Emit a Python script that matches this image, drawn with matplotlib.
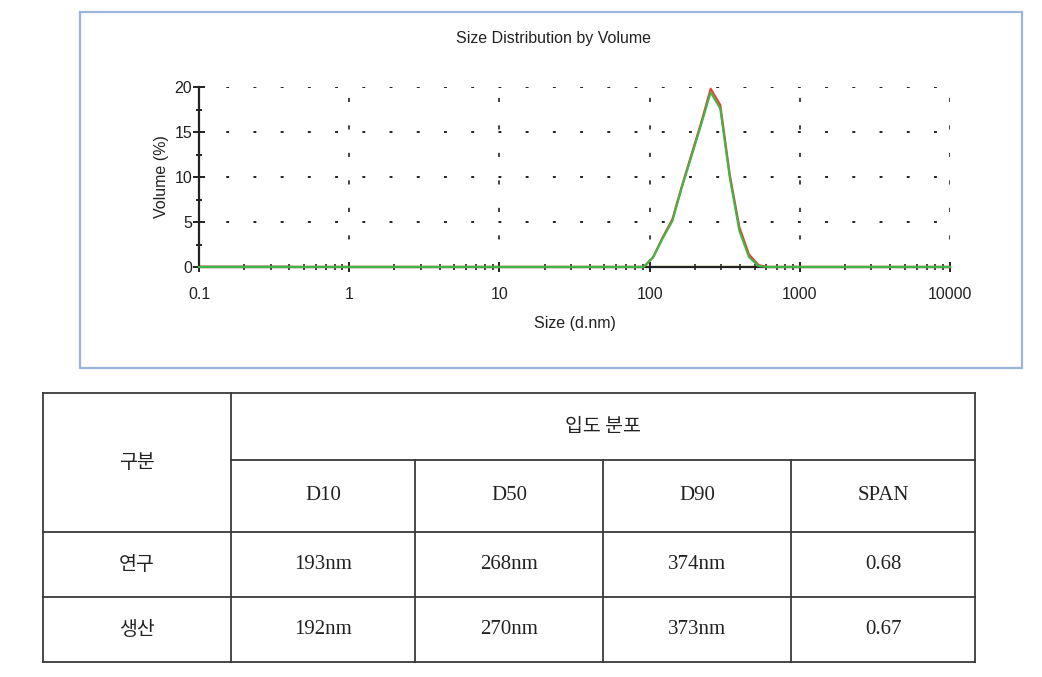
import numpy as np
import matplotlib
matplotlib.use("Agg")
import matplotlib.pyplot as plt
from matplotlib.patches import Rectangle
from matplotlib.lines import Line2D
from matplotlib.ticker import FixedLocator, FuncFormatter, LogLocator, NullFormatter

# size bins (d.nm) and volume (%)
sizes = [0.1, 0.4, 78.82, 91.28, 105.7, 122.4, 141.8, 164.2, 190.1, 220.2,
         255.0, 295.3, 342.0, 396.1, 458.7, 531.2, 615.1, 10000]
vol_research = [0, 0, 0, 0, 1.1, 3.3, 5.3, 9.0, 12.5, 16.0,
                19.8, 18.0, 10.2, 4.4, 1.4, 0.2, 0, 0]
vol_production = [0, 0, 0, 0, 1.1, 3.2, 5.1, 8.9, 12.3, 15.8,
                  19.4, 17.6, 9.9, 4.0, 1.1, 0.1, 0, 0]
base_sizes = [91.28, 531.2]
base_sizes_low = [0.1, 0.4]

# table contents
row_header = "구분"
group_header = "입도 분포"
col_labels = ["D10", "D50", "D90", "SPAN"]
row_labels = ["연구", "생산"]
table_values = [["193nm", "268nm", "374nm", "0.68"],
                ["192nm", "270nm", "373nm", "0.67"]]

W, H = 1042, 677
fig = plt.figure(figsize=(W / 100, H / 100), dpi=100)

# overlay axes in pixel coordinates for frame and table
over = fig.add_axes([0, 0, 1, 1])
over.set_xlim(0, W)
over.set_ylim(H, 0)
over.axis("off")
over.add_patch(Rectangle((80, 12), 942, 356, fill=False, edgecolor="#9db4dc", lw=1.6))

narrow = ["Liberation Sans Narrow", "Liberation Sans", "DejaVu Sans"]
txt_c = "#222222"

# chart
ax = fig.add_axes([199 / W, 1 - 267 / H, (950 - 199) / W, (267 - 87) / H])
ax.set_xscale("log")
ax.set_xlim(0.1, 10000)
ax.set_ylim(0, 20)

ax.plot(base_sizes_low, [0, 0], color="#6b3a2a", lw=2.5, zorder=2)
ax.plot(base_sizes, [0, 0], color="#6b3a2a", lw=2.0, zorder=2)
ax.plot(sizes, vol_research, color="#e8402c", lw=1.6, zorder=3, clip_on=False)
ax.plot(sizes, vol_production, color="#3cb84a", lw=1.5, zorder=4, clip_on=False)
ax.plot([0.1, 10000], [0.08, 0.08], color="#d4d44a", lw=1.0, zorder=1.5, clip_on=False)

for s in ["top", "right"]:
    ax.spines[s].set_visible(False)
for s in ["left", "bottom"]:
    ax.spines[s].set_color("#222222")
    ax.spines[s].set_linewidth(1.6)

ax.xaxis.set_major_locator(FixedLocator([0.1, 1, 10, 100, 1000, 10000]))
ax.xaxis.set_major_formatter(FuncFormatter(lambda v, p: f"{v:g}"))
ax.xaxis.set_minor_locator(LogLocator(base=10, subs=np.arange(2, 10)))
ax.xaxis.set_minor_formatter(NullFormatter())
ax.yaxis.set_major_locator(FixedLocator([0, 5, 10, 15, 20]))
ax.yaxis.set_minor_locator(FixedLocator([2.5, 7.5, 12.5, 17.5]))

ax.tick_params(axis="x", which="major", direction="inout", length=7, width=1.4,
               colors="#222222", labelsize=11.5, pad=11)
ax.tick_params(axis="x", which="minor", direction="inout", length=4, width=1.2, colors="#222222")
ax.tick_params(axis="y", which="major", direction="inout", length=8, width=1.4,
               colors="#222222", labelsize=11.5, pad=1)
ax.tick_params(axis="y", which="minor", direction="inout", length=5, width=1.4, colors="#222222")
for lab in ax.get_xticklabels() + ax.get_yticklabels():
    lab.set_family(narrow)
    lab.set_color(txt_c)

ax.xaxis.grid(True, which="major", color="#222222", lw=1.2, ls=(0, (2.5, 14)))
ax.yaxis.grid(True, which="major", color="#222222", lw=1.4, ls=(0, (1.5, 12.5)))
ax.set_axisbelow(True)

ax.set_xlabel("Size (d.nm)", family=narrow, fontsize=11.5, color=txt_c, labelpad=10)
ax.set_ylabel("Volume (%)", family=narrow, fontsize=11.5, color=txt_c, labelpad=4)
over.text(553, 39, "Size Distribution by Volume", family=narrow, fontsize=11.5,
          color=txt_c, ha="center", va="center")

# table
xs = [43, 231, 415, 603, 791, 975]
ys = [393, 460, 532, 597, 662]
lc = "#3a3a3a"
for y in [393, 532, 597, 662]:
    over.add_line(Line2D([xs[0], xs[-1]], [y, y], color=lc, lw=1.3))
over.add_line(Line2D([xs[1], xs[-1]], [ys[1], ys[1]], color=lc, lw=1.3))
for x in [xs[0], xs[1], xs[-1]]:
    over.add_line(Line2D([x, x], [ys[0], ys[-1]], color=lc, lw=1.3))
for x in xs[2:5]:
    over.add_line(Line2D([x, x], [ys[1], ys[-1]], color=lc, lw=1.3))

serif = ["Liberation Serif", "Noto Sans CJK KR"]
kor = ["Noto Sans CJK KR"]
over.text((xs[0] + xs[1]) / 2, (ys[0] + ys[2]) / 2, row_header, family=kor,
          fontsize=14, color=txt_c, ha="center", va="center")
over.text((xs[1] + xs[-1]) / 2, (ys[0] + ys[1]) / 2, group_header, family=kor,
          fontsize=14, color=txt_c, ha="center", va="center")
for i, c in enumerate(col_labels):
    over.text((xs[i + 1] + xs[i + 2]) / 2, (ys[1] + ys[2]) / 2, c, family=serif,
              fontsize=15, color=txt_c, ha="center", va="center")
for r, (rl, vals) in enumerate(zip(row_labels, table_values)):
    yc = (ys[r + 2] + ys[r + 3]) / 2
    over.text((xs[0] + xs[1]) / 2, yc, rl, family=kor, fontsize=14,
              color=txt_c, ha="center", va="center")
    for i, v in enumerate(vals):
        over.text((xs[i + 1] + xs[i + 2]) / 2, yc, v, family=serif, fontsize=15,
                  color=txt_c, ha="center", va="center")

fig.savefig("out.png", dpi=100)
